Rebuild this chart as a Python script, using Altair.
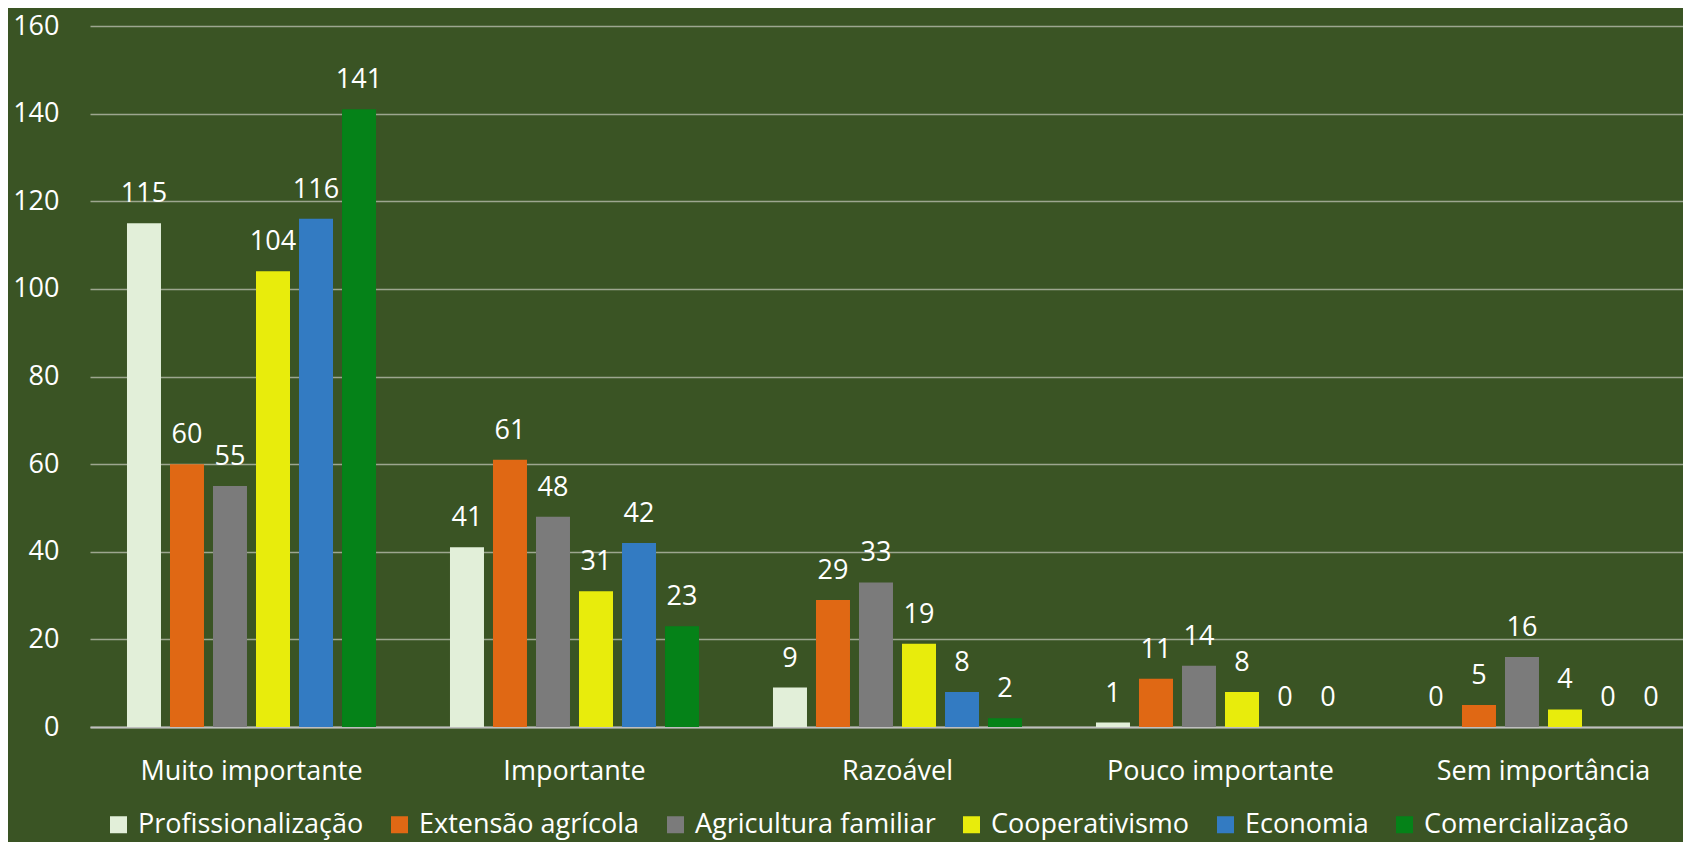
import altair as alt
import pandas as pd

categories = ["Muito importante", "Importante", "Razoável", "Pouco importante", "Sem importância"]
series = ["Profissionalização", "Extensão agrícola", "Agricultura familiar",
          "Cooperativismo", "Economia", "Comercialização"]
colors = ["#E2EFD9", "#E06814", "#7B7B7B", "#E8EC0C", "#337BC2", "#058218"]

profissionalizacao = [115, 41, 9, 1, 0]
extensao = [60, 61, 29, 11, 5]
agricultura = [55, 48, 33, 14, 16]
cooperativismo = [104, 31, 19, 8, 4]
economia = [116, 42, 8, 0, 0]
comercializacao = [141, 23, 2, 0, 0]

y_ticks = [0, 20, 40, 60, 80, 100, 120, 140, 160]

values = [profissionalizacao, extensao, agricultura, cooperativismo, economia, comercializacao]
rows = []
for s, vals in zip(series, values):
    for c, v in zip(categories, vals):
        rows.append({"categoria": c, "serie": s, "valor": v})
df = pd.DataFrame(rows)

FONT = "Open Sans"
BG = "#3A5424"

x = alt.X("categoria:N", sort=categories, title=None,
          scale=alt.Scale(paddingInner=0, paddingOuter=0, range=[0, 1615]),
          axis=alt.Axis(labelAngle=0, ticks=False, domainColor="#BFBFBF", domainWidth=2,
                        labelFontSize=27, labelColor="white", labelFont=FONT,
                        labelPadding=31, labelLimit=400))
xoff = alt.XOffset("serie:N", sort=series,
                   scale=alt.Scale(paddingInner=0.2093, paddingOuter=0.86))
y = alt.Y("valor:Q", title=None,
          scale=alt.Scale(domain=[0, 160], nice=False),
          axis=alt.Axis(values=y_ticks, ticks=False, domain=False,
                        gridColor="#9DA68F", gridWidth=1.5,
                        labelFontSize=27, labelColor="white", labelFont=FONT,
                        labelPadding=31))

base = alt.Chart(df)

bars = base.mark_bar().encode(
    x=x, xOffset=xoff, y=y,
    color=alt.Color("serie:N", sort=series,
                    scale=alt.Scale(domain=series, range=colors),
                    legend=alt.Legend(title=None, orient="none", legendX=15, legendY=785,
                                      direction="horizontal", columns=6,
                                      symbolType="square", symbolSize=289,
                                      symbolStrokeWidth=0, labelFontSize=27,
                                      labelColor="white", labelFont=FONT,
                                      columnPadding=22, labelOffset=6, padding=0,
                                      labelLimit=400)),
)

labels = base.mark_text(baseline="alphabetic", dy=-21, fontSize=27, font=FONT,
                        color="white").encode(
    x=x, xOffset=xoff, y=y, text=alt.Text("valor:Q"),
)

chart = alt.layer(bars, labels).properties(
    width=1593, height=701,
    background=BG,
    autosize=alt.AutoSizeParams(type="none"),
    padding={"left": 82, "top": 18, "right": 0, "bottom": 115},
).configure_view(stroke=None)

chart.save("out.html", embed_options={"renderer": "svg", "actions": False})
